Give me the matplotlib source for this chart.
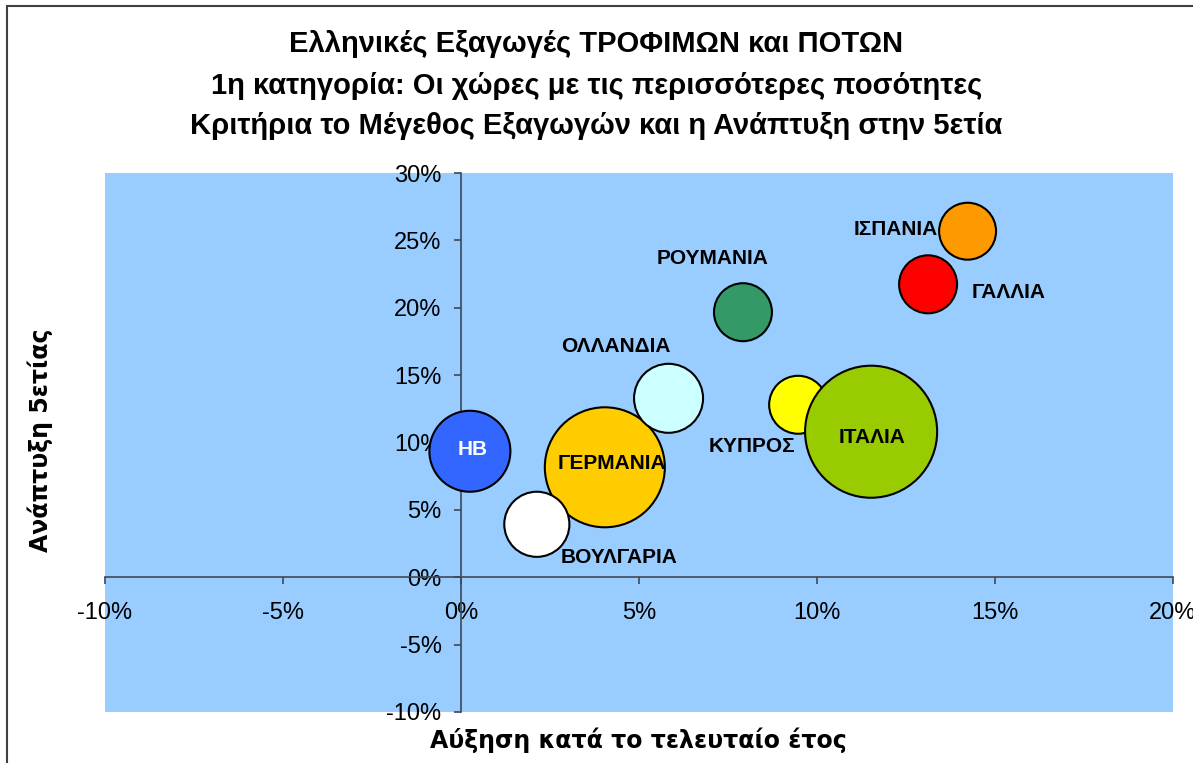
import numpy as np
import matplotlib.pyplot as plt
from matplotlib.patches import Rectangle
from matplotlib.ticker import FuncFormatter

# Δεδομένα (τιμές σε %)
xwres = ['HB', 'ΓΕΡΜΑΝΙΑ', 'ΒΟΥΛΓΑΡΙΑ', 'ΟΛΛΑΝΔΙΑ', 'ΡΟΥΜΑΝΙΑ',
         'ΚΥΠΡΟΣ', 'ΙΤΑΛΙΑ', 'ΙΣΠΑΝΙΑ', 'ΓΑΛΛΙΑ']
auxisi = [0.25, 4.04, 2.13, 5.83, 7.92, 9.47, 11.52, 14.23, 13.12]
anaptyxi = [9.35, 8.16, 3.93, 13.28, 19.67, 12.80, 10.80, 25.68, 21.74]
megethos = [164, 360, 106, 119, 84, 84, 436, 81, 84]

xromata = ['#3366FF', '#FFCC00', '#FFFFFF', '#CCFFFF', '#339966',
           '#FFFF00', '#99CC00', '#FF9900', '#FF0000']
# θέση ετικέτας σε points από το κέντρο της φούσκας
metatopisi = [(2, 1), (5, 3), (59, -24), (-38, 37), (-22, 39),
              (-33, -30), (1, -4), (-52, 1), (58, -6)]

W, H = 1193, 763
fig = plt.figure(figsize=(W / 100, H / 100), dpi=100)
fig.patches.append(Rectangle((7 / W, -0.1), 1.2, 1.1 - 6 / H, transform=fig.transFigure,
                             fill=False, edgecolor='#404040', linewidth=1.5))

ax = fig.add_axes([105 / W, (H - 712) / H, (1173 - 105) / W, (712 - 173) / H])
ax.set_facecolor('#99CCFF')
ax.set_xlim(-10, 20)
ax.set_ylim(-10, 30)

s = np.array(megethos) * 10 * (2 * 0.72) ** 2
ax.scatter(auxisi, anaptyxi, s=s, c=xromata, edgecolors='black', linewidths=1.5, zorder=3)

for i, name in enumerate(xwres):
    col = 'white' if name == 'HB' else 'black'
    ax.annotate(name, (auxisi[i], anaptyxi[i]), xytext=metatopisi[i], textcoords='offset points',
                ha='center', va='center', fontsize=15, fontweight='bold', color=col,
                family='Liberation Sans', zorder=4)

for side in ['top', 'right']:
    ax.spines[side].set_visible(False)
ax.spines['left'].set_position(('data', 0))
ax.spines['bottom'].set_position(('data', 0))
ax.spines['left'].set_color('#404855')
ax.spines['bottom'].set_color('#404855')
ax.spines['left'].set_linewidth(1.2)
ax.spines['bottom'].set_linewidth(1.2)

ax.set_xticks(np.arange(-10, 21, 5))
ax.set_yticks(np.arange(-10, 31, 5))
fmt = FuncFormatter(lambda v, p: f'{v:.0f}%')
ax.xaxis.set_major_formatter(fmt)
ax.yaxis.set_major_formatter(fmt)
ax.tick_params(axis='x', direction='out', length=5, width=1.2, color='#404855', pad=13, labelsize=17)
ax.tick_params(axis='y', direction='out', length=5, width=1.2, color='#404855', pad=9, labelsize=17)
for lab in ax.get_xticklabels() + ax.get_yticklabels():
    lab.set_family('Liberation Sans')

titloi = ['Ελληνικές Εξαγωγές ΤΡΟΦΙΜΩΝ και ΠΟΤΩΝ',
          '1η κατηγορία: Οι χώρες με τις περισσότερες ποσότητες',
          'Κριτήρια το Μέγεθος Εξαγωγών και η Ανάπτυξη στην 5ετία']
for t, yb in zip(titloi, [52, 94, 134]):
    fig.text(0.5, 1 - yb / H, t, ha='center', va='baseline', fontsize=21,
             fontweight='bold', family='Liberation Sans')

fig.text(638 / W, 1 - 740 / H, 'Αύξηση κατά το τελευταίο έτος', ha='center', va='center',
         fontsize=17, fontweight='bold', family='DejaVu Sans')
fig.text(40 / W, 1 - 440 / H, 'Ανάπτυξη 5ετίας', ha='center', va='center', rotation=90,
         fontsize=17, fontweight='bold', family='DejaVu Sans')

plt.savefig('out.png', dpi=100)
